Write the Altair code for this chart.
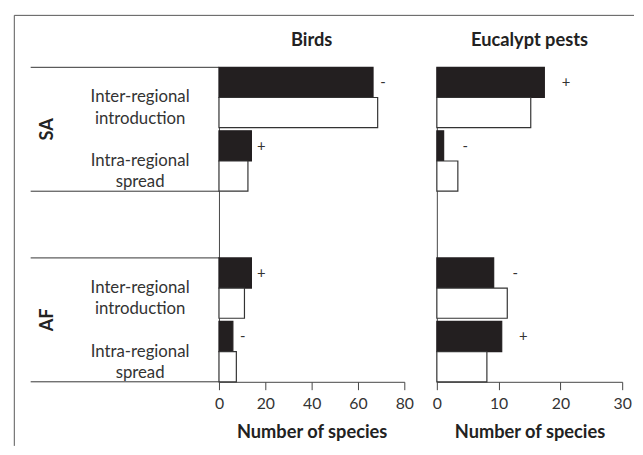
import altair as alt
import pandas as pd

# ---- data ----
slots = ["SA-inter", "SA-intra", "gap", "AF-inter", "AF-intra"]
bar_slots = ["SA-inter", "SA-intra", "AF-inter", "AF-intra"]
slot_labels = ["Inter-regional\nintroduction", "Intra-regional\nspread",
               "Inter-regional\nintroduction", "Intra-regional\nspread"]
region_slots = ["SA-inter", "AF-inter"]
region_names = ["SA", "AF"]
series = ["filled", "open"]
panel_titles = ["Birds", "Eucalypt pests"]

birds_filled = [66.5, 14, 14, 6]
birds_open = [68.5, 12.5, 11, 7.5]
birds_sign = ["-", "+", "+", "-"]

euc_filled = [17.4, 1.1, 9.2, 10.5]
euc_open = [15.2, 3.4, 11.4, 8.1]
euc_sign = ["+", "-", "-", "+"]

birds_ticks = [0, 20, 40, 60, 80]
euc_ticks = [0, 10, 20, 30]

FONT = "Lato"
AX = "#444444"
W, H = 188, 319


def ydef(bp=0.5):
    return alt.Y("slot:N", bandPosition=bp,
                 scale=alt.Scale(domain=slots, paddingInner=0.05, paddingOuter=0),
                 axis=alt.Axis(labels=False, ticks=False, title="", domainColor=AX,
                               grid=False))


def xdef(xmax, ticks):
    return alt.X("value:Q", scale=alt.Scale(domain=[0, xmax], nice=False),
                 axis=alt.Axis(values=ticks, title="Number of species", tickSize=8,
                               labelPadding=6, titlePadding=12, labelFont=FONT,
                               labelFontSize=16, labelColor="#333333", titleFont=FONT,
                               titleFontSize=18.5, titleFontWeight="bold",
                               titleColor="#222222", domainColor=AX, tickColor=AX,
                               grid=False, labelFlush=False))


def panel(title, filled, open_, signs, xmax, ticks, dx):
    rows = []
    for s, f, o in zip(bar_slots, filled, open_):
        rows.append({"slot": s, "series": "filled", "value": f})
        rows.append({"slot": s, "series": "open", "value": o})
    df_bars = pd.DataFrame(rows)
    df_signs = pd.DataFrame({"slot": bar_slots, "value": filled, "sign": signs})

    bars = alt.Chart(df_bars).mark_bar(strokeWidth=1.2).encode(
        x=xdef(xmax, ticks),
        y=ydef(),
        yOffset=alt.YOffset("series:N", scale=alt.Scale(domain=series, paddingInner=0,
                                                          paddingOuter=0)),
        fill=alt.Fill("series:N", scale=alt.Scale(domain=series,
                                                  range=["#231f20", "#ffffff"]),
                      legend=None),
        stroke=alt.Stroke("series:N", scale=alt.Scale(domain=series,
                                                      range=["#231f20", "#333333"]),
                          legend=None),
    )
    sign_txt = alt.Chart(df_signs).mark_text(
        font=FONT, fontSize=15, color="#333333", align="center", baseline="middle",
        dx=dx).encode(
        x=xdef(xmax, ticks), y=ydef(0.25), text="sign:N")
    head = alt.Chart(pd.DataFrame({"t": [title]})).mark_text(
        font=FONT, fontSize=18.5, fontWeight="bold", color="#222222", align="center",
        baseline="alphabetic").encode(
        x=alt.value(W / 2), y=alt.value(-22), text="t:N")
    return bars, sign_txt, head


b_bars, b_signs, b_head = panel(panel_titles[0], birds_filled, birds_open, birds_sign,
                                80, birds_ticks, 10)
e_bars, e_signs, e_head = panel(panel_titles[1], euc_filled, euc_open, euc_sign,
                                30, euc_ticks, 22)

df_labels = pd.DataFrame({"slot": bar_slots, "label": slot_labels})
cat_labels = alt.Chart(df_labels).mark_text(
    font=FONT, fontSize=17, color="#333333", align="center", baseline="middle",
    lineBreak="\n", lineHeight=21.5).encode(
    x=alt.value(-80), y=ydef(), text="label:N")

df_regions = pd.DataFrame({"slot": region_slots, "name": region_names})
region_labels = alt.Chart(df_regions).mark_text(
    font=FONT, fontSize=18.5, fontWeight="bold", color="#222222", angle=270,
    align="center", baseline="middle", dx=-1.6).encode(
    x=alt.value(-174), y=ydef(1), text="name:N")

df_tops = pd.DataFrame({"slot": ["SA-inter", "AF-inter"]})
df_bots = pd.DataFrame({"slot": ["SA-intra", "AF-intra"]})
box_tops = alt.Chart(df_tops).mark_rule(color="#333333", strokeWidth=1).encode(
    x=alt.value(-191), x2=alt.value(0), y=ydef(0))
box_bots = alt.Chart(df_bots).mark_rule(color="#333333", strokeWidth=1).encode(
    x=alt.value(-191), x2=alt.value(0), y=ydef(1))

one = pd.DataFrame({"a": [0]})
frame_left = alt.Chart(one).mark_rule(color="#555555", strokeWidth=1).encode(
    x=alt.value(-207.6), y=alt.value(-52.7), y2=alt.value(384))
frame_top = alt.Chart(one).mark_rule(color="#555555", strokeWidth=1).encode(
    x=alt.value(-207.6), x2=alt.value(421), y=alt.value(-52.7))

birds = alt.layer(frame_left, frame_top, box_tops, box_bots, cat_labels,
                  region_labels, b_bars, b_signs, b_head).properties(width=W, height=H)
euc = alt.layer(e_bars, e_signs, e_head).properties(width=W, height=H)

chart = alt.hconcat(birds, euc, spacing=33, bounds="flush").properties(
    padding={"left": 5, "top": 3, "right": 0, "bottom": 0}
).configure_view(stroke="transparent")

chart.save("out.html", embed_options={"renderer": "svg", "actions": False})
